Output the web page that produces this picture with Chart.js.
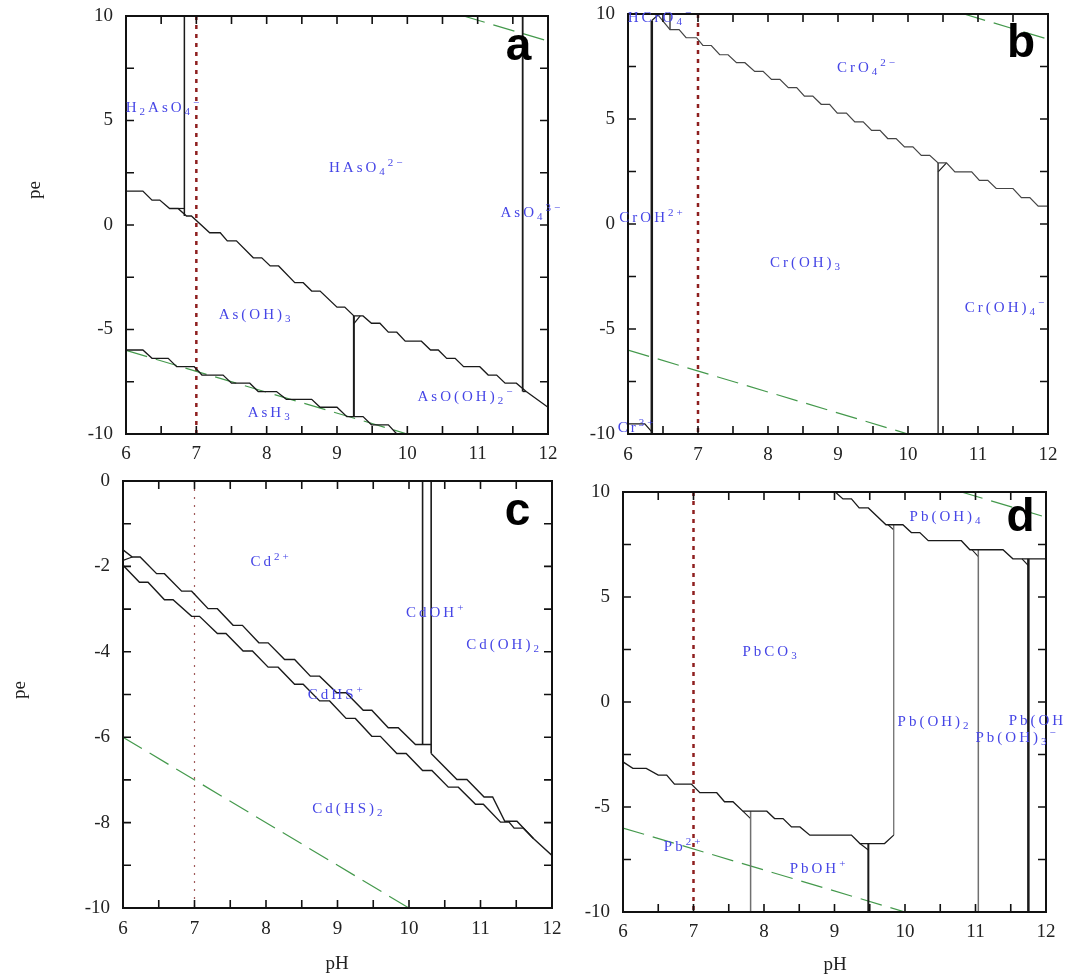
<!DOCTYPE html>
<html>
<head>
<meta charset="utf-8">
<title>pe-pH diagrams</title>
<script src="https://cdn.jsdelivr.net/npm/chart.js@4.4.1/dist/chart.umd.min.js"></script>
<style>
  body { margin: 0; background: #fff; }
  #wrap { position: relative; width: 1065px; height: 976px; overflow: hidden; background: #fff; }
  canvas { position: absolute; }
</style>
</head>
<body>
<div id="wrap">
  <canvas id="chartA"></canvas>
  <canvas id="chartB"></canvas>
  <canvas id="chartC"></canvas>
  <canvas id="chartD"></canvas>
</div>
<script>
// water stability limits and neutral pH, same on every diagram
const o2Line = [[10.8, 10], [12, 8.8]];
const h2Line = [[6, -6], [10, -10]];
const neutralPH = 7;

// a - arsenic
const aUpper = [[6.0,1.62],[6.24,1.62],[6.37,1.19],[6.48,1.19],[6.62,0.79],[6.74,0.79],[6.86,0.43],[6.93,0.43],
  [7.19,-0.37],[7.34,-0.37],[7.44,-0.76],[7.57,-0.76],[7.81,-1.57],[7.93,-1.57],[8.05,-1.96],[8.17,-1.96],
  [8.40,-2.76],[8.52,-2.76],[8.64,-3.16],[8.76,-3.16],[9.0,-3.93],[9.11,-3.93],[9.24,-4.35],[9.37,-4.35],
  [9.49,-4.70],[9.61,-4.70],[9.73,-5.13],[9.85,-5.13],[9.97,-5.56],[10.20,-5.56],[10.33,-5.98],[10.44,-5.98],
  [10.56,-6.38],[10.68,-6.38],[10.80,-6.78],[11.03,-6.78],[11.15,-7.18],[11.27,-7.18],[11.39,-7.57],[11.55,-7.57],
  [11.69,-7.97],[12.0,-8.72]];
const aLower = [[6.0,-5.98],[6.24,-5.98],[6.37,-6.38],[6.60,-6.38],[6.72,-6.78],[6.97,-6.78],[7.08,-7.18],[7.38,-7.18],
  [7.50,-7.57],[7.76,-7.57],[7.88,-7.97],[8.14,-7.97],[8.28,-8.34],[8.64,-8.34],[8.76,-8.72],[9.0,-8.72],
  [9.14,-9.17],[9.37,-9.17],[9.49,-9.56],[9.73,-9.56],[9.85,-10.0]];
const aVert1 = [[6.83,10],[6.83,0.43]];
const aVert2 = [[9.24,-4.35],[9.24,-9.17]];
const aVert3 = [[11.64,10],[11.64,-7.97]];
const aBits = [[[6.74,0.79],[6.83,0.79]], [[9.24,-4.72],[9.33,-4.35]], [[11.64,-7.97],[11.69,-7.97]]];
const aLabels = [['H{_2}AsO{_4}{^−}', 6.54, 5.59], ['HAsO{_4}{^2−}', 9.43, 2.72], ['AsO{_4}{^3−}', 11.77, 0.56],
  ['As(OH){_3}', 7.85, -4.3], ['AsO(OH){_2}{^−}', 10.84, -8.23], ['AsH{_3}', 8.05, -8.99]];

// b - chromium
const bUpper = [[6.43,9.95],[6.60,9.26],[6.73,9.26],[6.83,8.87],[6.98,8.87],[7.07,8.50],[7.19,8.50],[7.31,8.06],
  [7.43,8.06],[7.55,7.68],[7.67,7.68],[7.81,7.27],[7.93,7.27],[8.05,6.89],[8.17,6.89],[8.29,6.49],[8.41,6.49],
  [8.52,6.09],[8.64,6.09],[8.76,5.70],[8.88,5.70],[8.99,5.28],[9.12,5.28],[9.24,4.86],[9.36,4.86],[9.48,4.46],
  [9.60,4.46],[9.71,4.07],[9.83,4.07],[9.95,3.67],[10.07,3.67],[10.19,3.27],[10.31,3.27],[10.43,2.91],[10.55,2.91],
  [10.67,2.48],[10.91,2.48],[11.02,2.08],[11.14,2.08],[11.26,1.69],[11.50,1.69],[11.62,1.26],[11.74,1.26],
  [11.86,0.85],[12.0,0.85]];
const bVert1 = [[6.34,9.69],[6.34,-10]];
const bVert2 = [[10.43,2.91],[10.43,-10]];
const bBits = [[[6.34,9.69],[6.43,9.95]], [[6.60,9.95],[6.60,9.26]], [[10.43,2.48],[10.55,2.91]],
  [[6.0,-9.52],[6.24,-9.52],[6.34,-9.9]]];
const bLabels = [['HCrO{_4}{^−}', 6.47, 9.79], ['CrO{_4}{^2−}', 9.42, 7.41], ['CrOH{^2+}', 6.35, 0.28],
  ['Cr(OH){_3}', 8.55, -1.86], ['Cr(OH){_4}{^−}', 11.40, -4.0], ['Cr{^3+}', 6.13, -9.71]];

// c - cadmium
const cUpper = [[6.0,-1.61],[6.13,-1.78],[6.24,-1.78],[6.47,-2.17],[6.58,-2.17],[6.82,-2.58],[6.96,-2.58],[7.19,-2.99],
  [7.32,-2.99],[7.54,-3.38],[7.67,-3.38],[7.90,-3.79],[8.03,-3.79],[8.26,-4.18],[8.40,-4.18],[8.62,-4.57],
  [8.75,-4.57],[8.99,-4.96],[9.12,-4.96],[9.36,-5.37],[9.48,-5.37],[9.71,-5.78],[9.85,-5.78],[10.09,-6.17],
  [10.31,-6.17]];
const cUpperRight = [[10.31,-6.38],[10.67,-6.99],[10.81,-6.99],[11.05,-7.40],[11.17,-7.40],[11.34,-7.97],
  [11.51,-7.97],[11.74,-8.37],[12.0,-8.77]];
const cLower = [[6.0,-1.97],[6.23,-2.37],[6.35,-2.37],[6.58,-2.78],[6.70,-2.78],[6.96,-3.17],[7.07,-3.17],[7.32,-3.57],
  [7.44,-3.57],[7.68,-3.98],[7.81,-3.98],[8.03,-4.36],[8.17,-4.36],[8.40,-4.76],[8.52,-4.76],[8.75,-5.15],
  [8.89,-5.15],[9.12,-5.56],[9.25,-5.56],[9.48,-5.98],[9.60,-5.98],[9.83,-6.38],[9.96,-6.38],[10.19,-6.78],
  [10.32,-6.78],[10.55,-7.17],[10.69,-7.17],[10.93,-7.57],[11.04,-7.57],[11.28,-7.99],[11.40,-7.99],
  [11.47,-8.13],[11.60,-8.13],[11.74,-8.37]];
const cVert1 = [[10.19,0],[10.19,-6.17]];
const cVert2 = [[10.31,0],[10.31,-6.38]];
const cBits = [[[6.0,-1.86],[6.13,-1.78]]];
const cLabels = [['Cd{^2+}', 8.07, -1.90], ['CdOH{^+}', 10.38, -3.10], ['Cd(OH){_2}', 11.33, -3.85],
  ['CdHS{^+}', 8.99, -5.02], ['Cd(HS){_2}', 9.16, -7.69]];

// d - lead
const dUpper = [[9.01,10],[9.12,9.67],[9.24,9.67],[9.35,9.24],[9.48,9.24],[9.73,8.44],[9.97,8.44],[10.09,8.07],
  [10.21,8.07],[10.33,7.68],[10.80,7.68],[10.92,7.25],[11.39,7.25],[11.53,6.82],[12.0,6.82]];
const dLower = [[6.0,-2.85],[6.14,-3.16],[6.33,-3.16],[6.50,-3.48],[6.62,-3.48],[6.73,-3.91],[6.97,-3.91],[7.09,-4.32],
  [7.33,-4.32],[7.44,-4.75],[7.56,-4.75],[7.70,-5.20],[8.04,-5.20],[8.15,-5.55],[8.27,-5.55],[8.39,-5.95],
  [8.51,-5.95],[8.65,-6.34],[9.24,-6.34],[9.36,-6.74],[9.71,-6.74],[9.84,-6.34]];
const dVert1 = [[7.81,-5.20],[7.81,-10]];
const dVert2 = [[9.48,-6.74],[9.48,-10]];
const dVert3 = [[9.84,8.44],[9.84,-6.34]];
const dVert4 = [[11.04,7.25],[11.04,-10]];
const dVert5 = [[11.75,6.82],[11.75,-10]];
const dBits = [[[7.70,-5.20],[7.81,-5.55]], [[9.36,-6.74],[9.48,-7.05]], [[9.76,8.44],[9.84,8.2]],
  [[10.95,7.25],[11.04,6.92]], [[11.66,6.82],[11.75,6.49]]];
const dLabels = [['Pb(OH){_4}', 10.59, 8.82], ['PbCO{_3}', 8.10, 2.38], ['Pb(OH){_2}', 10.42, -0.95],
  ['Pb(OH){_3}{^−}', 11.59, -1.71], ['Pb(OH', 11.47, -0.9, 'left'], ['Pb{^2+}', 6.86, -6.91], ['PbOH{^+}', 8.78, -7.96]];

const INK = '#1a1a1a', GREY = '#707070', GREEN = '#44994c', RED = '#8e1f1f', BLUE = '#4646e6';

Chart.defaults.font.family = '"Liberation Serif", serif';
Chart.defaults.font.size = 19;
Chart.defaults.color = '#222';

function line(arr, color, width, dash) {
  return {
    data: arr.map(p => ({x: p[0], y: p[1]})),
    showLine: true, pointRadius: 0, borderColor: color, borderWidth: width,
    borderDash: dash || [], fill: false, tension: 0
  };
}

function waterSets(lo, hi) {
  return [line(o2Line, GREEN, 1.2, [22, 9]), line(h2Line, GREEN, 1.2, [22, 9]),
    line([[neutralPH, hi], [neutralPH, lo]], RED, 2.5, [4, 5])];
}

// chemical formula with {_sub} and {^sup} parts
function drawRich(ctx, str, x, y, align) {
  const size = 15, small = 11;
  const parts = [];
  const re = /\{([_^])([^}]*)\}|([^{]+)/g;
  let m;
  while ((m = re.exec(str))) parts.push(m[3] ? {t: m[3], k: ''} : {t: m[2], k: m[1]});
  ctx.letterSpacing = '3px';
  let w = 0;
  parts.forEach(p => {
    ctx.font = (p.k ? small : size) + 'px "Liberation Serif"';
    p.w = ctx.measureText(p.t).width;
    w += p.w;
  });
  let cx = align === 'left' ? x : x - w / 2;
  ctx.textAlign = 'left';
  ctx.textBaseline = 'middle';
  parts.forEach(p => {
    ctx.font = (p.k ? small : size) + 'px "Liberation Serif"';
    const dy = p.k === '_' ? 4 : p.k === '^' ? -5 : 0;
    ctx.fillText(p.t, cx, y + dy);
    cx += p.w;
  });
  ctx.letterSpacing = '0px';
}

function framePlugin(p) {
  return {
    id: 'frame',
    afterDraw(chart) {
      const ctx = chart.ctx, a = chart.chartArea, xs = chart.scales.x, ys = chart.scales.y;
      const ox = p.box[0], oy = p.box[1];
      ctx.save();
      ctx.strokeStyle = '#111';
      ctx.lineWidth = 1.6;
      ctx.beginPath();
      xs.ticks.forEach(t => {
        const px = xs.getPixelForValue(t.value);
        ctx.moveTo(px, a.bottom); ctx.lineTo(px, a.bottom - 8);
        ctx.moveTo(px, a.top); ctx.lineTo(px, a.top + 8);
      });
      ys.ticks.forEach(t => {
        const py = ys.getPixelForValue(t.value);
        ctx.moveTo(a.left, py); ctx.lineTo(a.left + 8, py);
        ctx.moveTo(a.right, py); ctx.lineTo(a.right - 8, py);
      });
      ctx.stroke();
      ctx.lineWidth = 2;
      ctx.strokeRect(a.left, a.top, a.right - a.left, a.bottom - a.top);

      ctx.fillStyle = BLUE;
      p.labels.forEach(l => drawRich(ctx, l[0], xs.getPixelForValue(l[1]), ys.getPixelForValue(l[2]), l[3]));

      // panel letter
      ctx.fillStyle = '#000';
      ctx.font = 'bold 46px "Liberation Sans"';
      ctx.textAlign = 'center';
      ctx.textBaseline = 'alphabetic';
      ctx.fillText(p.letter, p.letterAt[0] - ox, p.letterAt[1] - oy);

      // axis titles
      ctx.fillStyle = '#222';
      ctx.font = '19px "Liberation Serif"';
      ctx.textBaseline = 'middle';
      p.titles.forEach(t => {
        ctx.save();
        ctx.translate(t[1] - ox, t[2] - oy);
        if (t[3]) ctx.rotate(-Math.PI / 2);
        ctx.fillText(t[0], 0, 0);
        ctx.restore();
      });
      ctx.restore();
    }
  };
}

function build(p) {
  const cv = document.getElementById(p.id);
  cv.width = p.box[2];
  cv.height = p.box[3];
  cv.style.left = p.box[0] + 'px';
  cv.style.top = p.box[1] + 'px';
  const [l, t, r, b] = p.area;
  new Chart(cv, {
    type: 'scatter',
    data: {datasets: p.sets},
    options: {
      responsive: false,
      animation: false,
      events: [],
      layout: {padding: {left: 0, top: t - p.box[1], right: p.box[0] + p.box[2] - r, bottom: 0}},
      plugins: {legend: {display: false}, tooltip: {enabled: false}},
      scales: {
        x: {
          type: 'linear', min: 6, max: 12,
          afterFit: s => { s.height = p.box[1] + p.box[3] - b; },
          grid: {display: false, drawTicks: false},
          border: {display: false},
          ticks: {stepSize: 0.5, autoSkip: false, maxRotation: 0, padding: p.padX,
            callback: v => Number.isInteger(v) ? String(v) : ''}
        },
        y: {
          type: 'linear', min: p.y[0], max: p.y[1],
          afterFit: s => { s.width = l - p.box[0]; },
          grid: {display: false, drawTicks: false},
          border: {display: false},
          ticks: {stepSize: p.y[2], autoSkip: false, padding: 13,
            callback: v => Math.abs(v % p.y[3]) < 1e-9 ? String(v) : ''}
        }
      }
    },
    plugins: [framePlugin(p)]
  });
}

// box = canvas [left, top, width, height] on the page, area = plot frame [left, top, right, bottom]
const panels = [
  {
    id: 'chartA', box: [10, -12, 563, 492], area: [126, 16, 548, 434], y: [-10, 10, 2.5, 5], padX: 9,
    letter: 'a', letterAt: [518.5, 60], titles: [['pe', 35, 190, true]], labels: aLabels,
    sets: [line(aUpper, INK, 1.3), line(aLower, INK, 1.3), line(aVert1, INK, 1.5), line(aVert2, INK, 2),
      line(aVert3, INK, 1.8), ...aBits.map(s => line(s, INK, 1.2)), ...waterSets(-10, 10)]
  },
  {
    id: 'chartB', box: [565, -14, 512, 494], area: [628, 14, 1048, 434], y: [-10, 10, 2.5, 5], padX: 10,
    letter: 'b', letterAt: [1021, 57], titles: [], labels: bLabels,
    sets: [line(bUpper, '#444', 1.2), line(bVert1, INK, 2.5), line(bVert2, '#333', 1.5),
      ...bBits.map(s => line(s, INK, 1.2)), ...waterSets(-10, 10)]
  },
  {
    id: 'chartC', box: [0, 453, 580, 523], area: [123, 481, 552, 908], y: [-10, 0, 1, 2], padX: 10,
    letter: 'c', letterAt: [517.5, 525], titles: [['pe', 20, 690, true], ['pH', 337, 964, false]], labels: cLabels,
    sets: [line(cUpper, INK, 1.4), line(cUpperRight, INK, 1.4), line(cLower, INK, 1.4),
      line(cVert1, INK, 1.6), line(cVert2, INK, 1.6), ...cBits.map(s => line(s, INK, 1.2)),
      line(h2Line, GREEN, 1.2, [22, 9]), line([[neutralPH, 0], [neutralPH, -10]], '#a05a5a', 1.2, [2, 6])]
  },
  {
    id: 'chartD', box: [565, 464, 512, 512], area: [623, 492, 1046, 912], y: [-10, 10, 2.5, 5], padX: 9,
    letter: 'd', letterAt: [1020.5, 531], titles: [['pH', 835, 965, false]], labels: dLabels,
    sets: [line(dUpper, INK, 1.3), line(dLower, INK, 1.3), line(dVert1, GREY, 1.5), line(dVert2, INK, 2),
      line(dVert3, GREY, 1.3), line(dVert4, GREY, 1.5), line(dVert5, INK, 2.5),
      ...dBits.map(s => line(s, INK, 1.1)), ...waterSets(-10, 10)]
  }
];

panels.forEach(build);
</script>
</body>
</html>
